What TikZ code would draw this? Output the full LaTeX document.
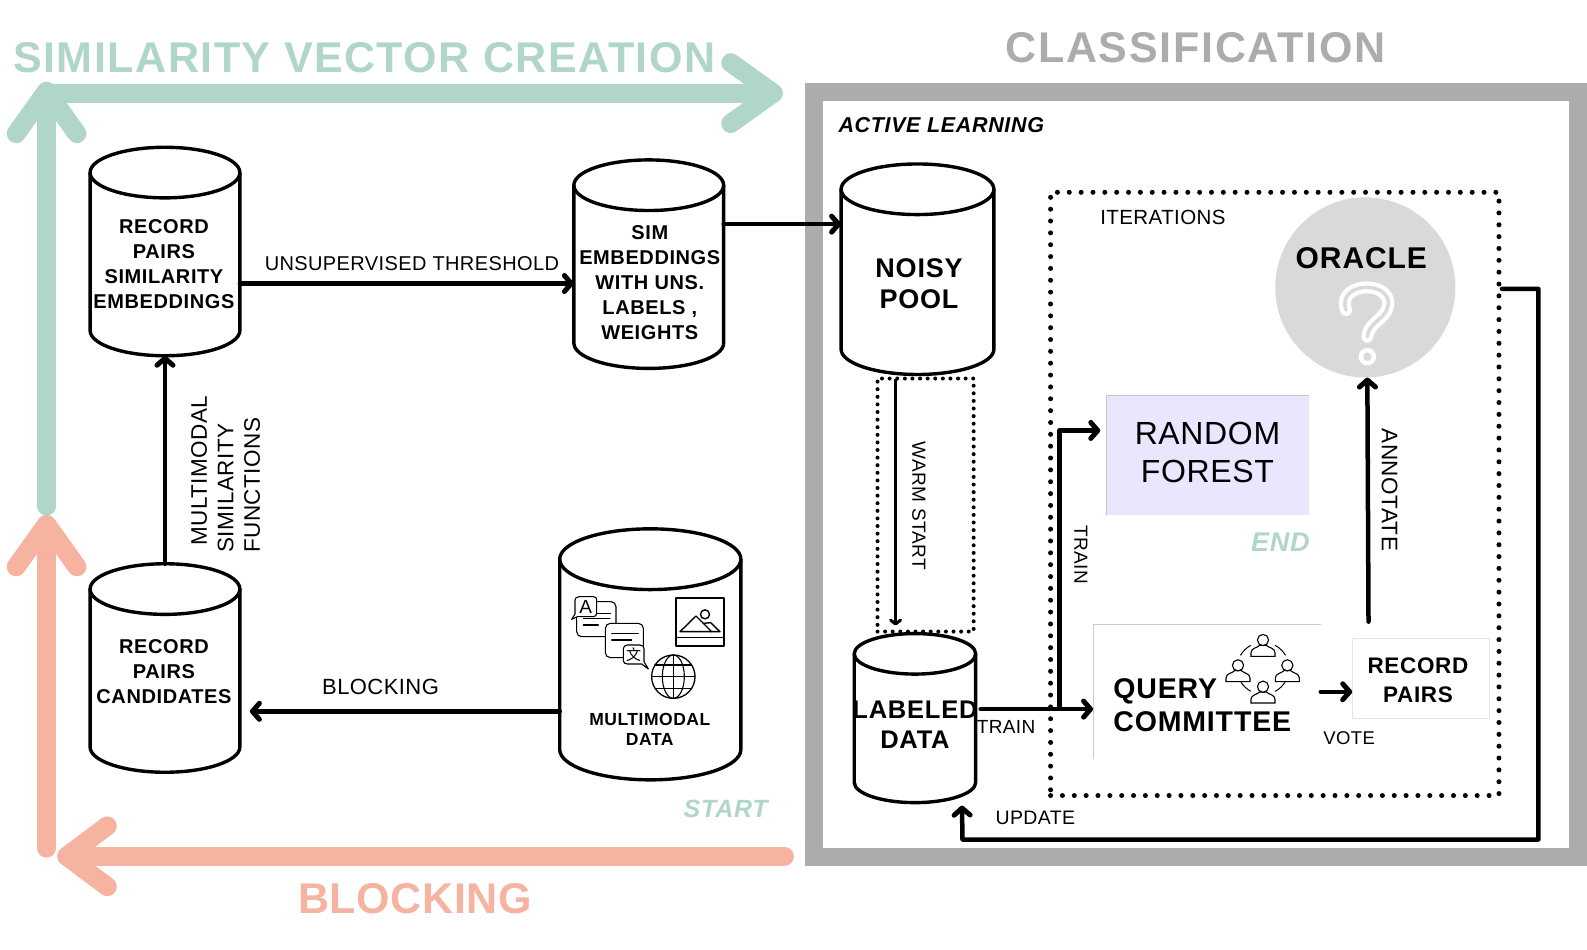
\documentclass[tikz,border=0pt]{standalone}
\usepackage{fontspec}
\setmainfont{Liberation Sans}
\newfontfamily\rb[LetterSpace=3]{Liberation Sans}
\newfontfamily\rl[LetterSpace=2]{Liberation Sans}
\newfontfamily\cjk{Noto Sans CJK SC}
\usetikzlibrary{arrows.meta,calc,positioning}
\definecolor{simgreen}{HTML}{B0D5CB}
\definecolor{blockor}{HTML}{F5B3A0}
\definecolor{framegrey}{HTML}{ACACAC}
\definecolor{oraclegrey}{HTML}{D9D9D9}
\definecolor{rflav}{HTML}{E9E7FE}
\definecolor{rfedge}{HTML}{C4C2D8}
\newcommand\fs[1]{\fontsize{#1}{#1}\selectfont}
\newcommand\cyl[6]{% name cx cy w h ry
  \node[inner sep=0,outer sep=0,minimum width={1.0121*#4*1pt},minimum height={1.0121*#5*1pt}] (#1) at (#2,#3) {};
  \draw[line width=3.4pt,line join=round] ({#2},{#3-#5/2+#6}) ellipse [x radius={1.0121*#4/2*1pt},y radius={1.0121*#6*1pt}];
  \draw[line width=3.4pt,line join=round] ({#2-#4/2},{#3-#5/2+#6}) -- ({#2-#4/2},{#3+#5/2-#6})
     arc[start angle=180,end angle=360,x radius={1.0121*#4/2*1pt},y radius={1.0121*#6*1pt}]
     -- ({#2+#4/2},{#3-#5/2+#6});
}
\newcommand\person[2]{%
  \draw[line width=1.1pt,fill=white] (#1-36,#2+49) -- (#1-36,#2+38) .. controls (#1-36,#2+24) and (#1-18,#2+24) .. (#1-10,#2+16)
     -- (#1+10,#2+16) .. controls (#1+18,#2+24) and (#1+36,#2+24) .. (#1+36,#2+38) -- (#1+36,#2+49) -- cycle;
  \draw[line width=1.1pt,fill=white] (#1,#2) circle [radius=5.6pt];
}
\tikzset{
  x=1.0121pt,y=-1.0121pt,
  thickarrow/.style={line width=4.5pt,line cap=round,line join=round,-{Straight Barb[length=7pt,width=16pt,line width=5pt,round]}},
  bigstroke/.style={line width=19pt,line cap=round,line join=round},
  nb/.style={inner sep=0,outer sep=0},
  tlabel/.style={inner sep=0,outer sep=0,align=center,font=\rl\fs{20}},
  blabel/.style={inner sep=0,outer sep=0,align=center,font=\rb\bfseries\fs{20}},
  icon/.style={line width=1.1pt,line join=round,line cap=round},
}
\begin{document}
\begin{tikzpicture}
\useasboundingbox (0,0) rectangle (1568,937.67);
% titles
\node[nb,text=simgreen,font=\bfseries\fs{43}] (t1) at (360,57) {\addfontfeature{LetterSpace=3.5}SIMILARITY VECTOR CREATION};
\node[nb,text=framegrey,font=\bfseries\fs{43}] (t2) at (1181,47) {\addfontfeature{LetterSpace=4}CLASSIFICATION};
\node[nb,text=blockor,font=\bfseries\fs{43}] (t3) at (410,888) {\addfontfeature{LetterSpace=1.5}BLOCKING};
% big arrows
\coordinate (gs) at (46,500); \coordinate (gc) at (46,92); \coordinate (ge) at (764,92);
\coordinate (os) at (46,838); \coordinate (oc) at (46,520); \coordinate (hs) at (775,846); \coordinate (he) at (66,846);
\draw[bigstroke,simgreen] (gs) -- (gc);
\draw[bigstroke,simgreen] (16,132) -- (46,90) -- (76,132);
\draw[bigstroke,simgreen] (gc) -- (ge);
\draw[bigstroke,simgreen] (722,62) -- (ge) -- (722,122);
\draw[bigstroke,blockor] (os) -- (oc);
\draw[bigstroke,blockor] (16,560) -- (46,518) -- (76,560);
\draw[bigstroke,blockor] (hs) -- (he);
\draw[bigstroke,blockor] (106,816) -- (he) -- (106,876);
% classification frame
\node[nb,draw=framegrey,line width=18pt,minimum width={1.0121*755*1pt},minimum height={1.0121*756*1pt}] (frame) at (1181.5,469) {};
\node[nb,font=\rb\bfseries\itshape\fs{21.5}] (al) at (930,123.5) {ACTIVE LEARNING};
% cylinders
\cyl{A}{163}{248.5}{148}{206}{25}
\cyl{B}{641}{261}{148}{206}{25}
\cyl{C}{163}{660}{148}{206}{25}
\cyl{D}{642.5}{646.5}{179}{248}{30}
\cyl{E}{906.5}{266}{151}{208}{25}
\cyl{F}{904}{709.5}{120}{167}{20}
\node[blabel] (Al) at (162,261) {RECORD\\[5pt]PAIRS\\[5pt]SIMILARITY\\[5pt]EMBEDDINGS};
\node[blabel] (Bl) at (642,279) {SIM\\[5pt]EMBEDDINGS\\[5pt]WITH UNS.\\[5pt]LABELS ,\\[5pt]WEIGHTS};
\node[blabel] (Cl) at (162,664) {RECORD\\[5pt]PAIRS\\[5pt]CANDIDATES};
\node[blabel,font=\rb\bfseries\fs{17.5}] (Dl) at (642,721) {MULTIMODAL\\[2.5pt]DATA};
\node[blabel,font=\rb\bfseries\fs{27}] (El) at (908,280) {NOISY\\[4pt]POOL};
\node[blabel,font=\rb\bfseries\fs{25.5}] (Fl) at (904,716) {LABELED\\[5pt]DATA};
% multimodal icons (reference pixels x3)
\begin{scope}[shift={(540pt,-520pt)},x=0.3333pt,y=-0.3333pt,icon]
  \draw[fill=white,rounded corners=5pt] (110,245) rectangle (228,350);
  \draw (170,280) -- (212,280) (130,295) -- (210,295) (130,315) -- (175,315);
  \draw[fill=white] (118,230) -- (160,230) .. controls (168,230) and (170,234) .. (170,240) -- (170,280) .. controls (170,286) and (166,290) .. (160,290) -- (112,290) -- (95,298) -- (105,282) -- (105,240) .. controls (105,234) and (110,230) .. (118,230) -- cycle;
  \node[nb,font=\fs{19}] (langA) at (137,260) {A};
  \draw[fill=white,rounded corners=5pt] (196,310) rectangle (310,413);
  \draw (215,340) -- (295,340) (215,360) -- (275,360);
  \draw[fill=white] (262,375) -- (300,375) .. controls (308,375) and (312,380) .. (312,386) -- (312,425) -- (325,447) -- (305,432) -- (262,432) .. controls (255,432) and (250,428) .. (250,422) -- (250,386) .. controls (250,380) and (255,375) .. (262,375) -- cycle;
  \node[nb,font=\cjk\fs{15}] (langZ) at (281,404) {文};
  \draw[line width=1.3pt] (400,470) circle [radius=21.7pt];
  \draw[line width=1.1pt] (400,470) ellipse [x radius=11pt,y radius=21.7pt];
  \draw[line width=1.1pt] (400,405) -- (400,535) (335,470) -- (465,470) (345,435) -- (455,435) (345,505) -- (455,505);
  \draw[line width=1.8pt] (407,233) rectangle (553,378);
  \draw[line width=1.4pt] (407,352) -- (553,352);
  \draw[line width=1.4pt] (420,335) -- (468,288) -- (515,335) -- cycle;
  \draw[line width=1.4pt] (490,310) -- (512,308) -- (540,335) -- (515,335);
  \draw[line width=1.4pt] (495,283) circle [radius=4.5pt];
\end{scope}
% lavender, oracle, boxes
\node[nb,fill=rflav,minimum width={1.0121*200*1pt},minimum height={1.0121*118*1pt}] (rf) at (1193,450) {};
\draw[rfedge,line width=0.8pt] (rf.south west) -- (rf.north west) -- (rf.north east);
\node[nb,font=\rl\fs{32},align=center] (rfl) at (1193,447) {RANDOM\\[6pt]FOREST};
\node[nb,circle,fill=oraclegrey,minimum size={1.0121*178*1pt}] (oracle) at (1349,284) {};
\node[nb,font=\rb\bfseries\fs{30}] (ol) at (1345,255) {ORACLE};
\begin{scope}[shift={(1260pt,-180pt)},x=0.3333pt,y=-0.3333pt]
  \draw[white,line width=12pt,line cap=round] (258,390) .. controls (240,340) and (290,322) .. (320,322) .. controls (365,322) and (395,350) .. (382,385) .. controls (370,420) and (325,430) .. (322,470);
  \draw[oraclegrey,line width=3.5pt,line cap=round] (258,390) .. controls (240,340) and (290,322) .. (320,322) .. controls (365,322) and (395,350) .. (382,385) .. controls (370,420) and (325,430) .. (322,470);
  \draw[white,line width=4.5pt] (322,530) circle [radius=6.5pt];
\end{scope}
\node[nb,fill=white,minimum width={1.0121*225*1pt},minimum height={1.0121*133*1pt}] (qc) at (1192.5,683.5) {};
\draw[black!20,line width=0.6pt] (qc.south west) -- (qc.north west) -- (qc.north east);
\node[nb,draw=black!10,line width=0.6pt,fill=white,minimum width={1.0121*135*1pt},minimum height={1.0121*79*1pt}] (rp) at (1403.5,670.5) {};
\node[nb,font=\rb\bfseries\fs{28.5},align=left,anchor=west] (qcl) at (1100,696.5) {QUERY\\[4pt]COMMITTEE};
\node[blabel,font=\rb\bfseries\fs{22.5}] (rpl) at (1401,672) {RECORD\\[6pt]PAIRS};
\begin{scope}[shift={(1080pt,-610pt)},x=0.3333pt,y=-0.3333pt]
  \draw[line width=1pt] (549,175) ++(62:26pt) arc[start angle=62,end angle=30,radius=26pt];
  \draw[line width=1pt] (549,175) ++(118:26pt) arc[start angle=118,end angle=150,radius=26pt];
  \draw[line width=1pt] (549,175) ++(-62:26pt) arc[start angle=-62,end angle=-30,radius=26pt];
  \draw[line width=1pt] (549,175) ++(-118:26pt) arc[start angle=-118,end angle=-150,radius=26pt];
  \person{549}{90}\person{474}{166}\person{622}{166}\person{549}{230}
\end{scope}
% dotted regions
\node[nb,draw,line width=5pt,line cap=round,dash pattern=on 0pt off 11.85pt,minimum width={1.0121*443*1pt},minimum height={1.0121*596*1pt}] (iter) at (1259.5,488) {};
\node[nb,draw,line width=4pt,line cap=round,dash pattern=on 0pt off 7.6pt,minimum width={1.0121*95*1pt},minimum height={1.0121*250*1pt}] (warm) at (914.5,499) {};
% connectors
\draw[thickarrow] ([yshift=-32pt]A.east) -- ([yshift=-32pt]A.east -| B.west);
\draw[thickarrow] ([yshift=40pt]B.east) -- ([yshift=40pt]B.east -| E.west);
\draw[thickarrow] (C.north) -- (A.south);
\draw[thickarrow] ([yshift=-57pt]D.west) -- ([xshift=10pt,yshift=-57pt]D.west -| C.east);
\draw[line width=2.8pt,-{Straight Barb[length=4pt,width=10pt,line width=3pt,round]}] ([xshift=-30pt]warm.north) -- ([xshift=-30pt,yshift=6pt]warm.south);
\draw[thickarrow] ([xshift=5pt,yshift=9pt]F.east) -- ([yshift=9pt]F.east -| qc.west);
\coordinate (tb) at (1047,700);
\draw[thickarrow] (tb) -- ([yshift=25pt]tb |- rf.west) -- ([xshift=-6pt,yshift=25pt]rf.west);
\draw[thickarrow] (qc.east) -- (qc.east -| rp.west);
\draw[thickarrow] ([xshift=-52pt,yshift=17pt]rp.north) -- ([xshift=2pt]oracle.south);
\draw[thickarrow] ([xshift=3pt,yshift=205pt]iter.east) -- ++(36,0) -- ++(0,544) -- ++(-569,0) -- ([xshift=47pt,yshift=-3pt]F.south);
% labels
\node[tlabel] (l1) at (407,260) {UNSUPERVISED THRESHOLD};
\node[tlabel,rotate=90,align=left,font=\rl\fs{22.5}] (l2) at (223,468.5) {\hspace*{7pt}MULTIMODAL\\[4pt]SIMILARITY\\[4pt]FUNCTIONS};
\node[tlabel,font=\rl\fs{22}] (l3) at (376,679) {BLOCKING};
\node[tlabel,rotate=-90,font=\rl\fs{19}] (l4) at (908,500) {WARM START};
\node[tlabel,rotate=-90,font=\rl\fs{19}] (l5) at (1068,548) {TRAIN};
\node[tlabel,rotate=-90,font=\rl\fs{22.5}] (l6) at (1373,484) {ANNOTATE};
\node[tlabel,font=\rl\fs{19}] (l7) at (994,718) {TRAIN};
\node[tlabel,font=\rl\fs{18.5}] (l8) at (1333,729) {VOTE};
\node[tlabel,font=\rl\fs{19.5}] (l9) at (1023,808) {UPDATE};
\node[tlabel,font=\rl\fs{20.5}] (l10) at (1149,215) {ITERATIONS};
\node[nb,text=simgreen,font=\rb\bfseries\itshape\fs{25}] (st) at (717,799) {START};
\node[nb,text=simgreen,font=\rb\bfseries\itshape\fs{27}] (en) at (1265,536) {END};
\end{tikzpicture}
\end{document}
